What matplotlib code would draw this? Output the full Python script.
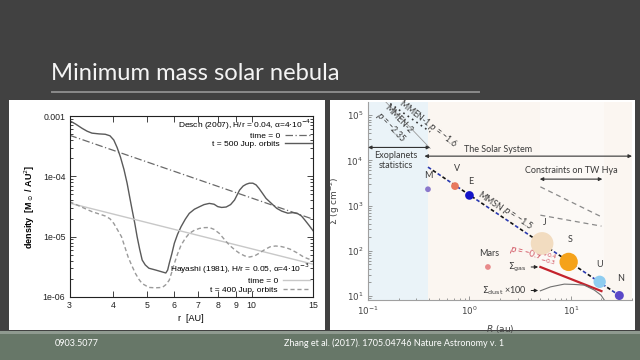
import matplotlib
matplotlib.use("Agg")
import matplotlib.pyplot as plt
from matplotlib.patches import Rectangle
from matplotlib.lines import Line2D
import numpy as np

# ---------------- data: left panel (gnuplot) ----------------
r_ticks = [3, 4, 5, 6, 7, 8, 9, 10, 15]
desch_t0_r = [3, 15]
desch_t0_d = [4.8e-4, 1.95e-5]
hayashi_t0_r = [3, 15]
hayashi_t0_d = [3.6e-5, 3.5e-6]
desch_t500_r = [3.0, 3.13, 3.26, 3.37, 3.48, 3.65, 3.80, 3.92, 4.02, 4.11, 4.20, 4.30, 4.39,
                4.47, 4.54, 4.62, 4.69, 4.77, 4.85, 4.95, 5.07, 5.3, 5.54, 5.67, 5.74, 5.80,
                5.9, 6.0, 6.13, 6.27, 6.45, 6.62, 6.85, 7.08, 7.3, 7.56, 7.8, 7.99, 8.2, 8.45,
                8.7, 8.93, 9.23, 9.45, 9.65, 9.85, 10.08, 10.3, 10.5, 10.75, 11.0, 11.4, 11.8,
                12.2, 12.7, 13.1, 13.5, 13.9, 14.2, 14.6, 15.0]
desch_t500_d = [8.4e-4, 7.3e-4, 6.25e-4, 5.6e-4, 5.2e-4, 5.05e-4, 4.98e-4, 4.7e-4, 4.0e-4,
                3.0e-4, 2.1e-4, 1.3e-4, 7.7e-5, 4.4e-5, 2.75e-5, 1.65e-5, 1.0e-5, 6.2e-6,
                4.1e-6, 3.4e-6, 3.0e-6, 2.8e-6, 2.6e-6, 2.5e-6, 2.8e-6, 3.6e-6, 5.2e-6,
                7.8e-6, 1.1e-5, 1.46e-5, 1.95e-5, 2.43e-5, 2.85e-5, 3.13e-5, 3.4e-5, 3.56e-5,
                3.45e-5, 3.15e-5, 3.05e-5, 3.1e-5, 3.4e-5, 4.05e-5, 5.9e-5, 6.9e-5, 7.4e-5,
                7.7e-5, 7.7e-5, 7.2e-5, 6.3e-5, 5.2e-5, 4.3e-5, 3.55e-5, 2.95e-5, 2.65e-5,
                2.45e-5, 2.5e-5, 2.45e-5, 2.2e-5, 1.9e-5, 1.55e-5, 1.26e-5]
hayashi_t400_r = [3.0, 3.48, 3.80, 3.92, 4.02, 4.12, 4.23, 4.32, 4.42, 4.53, 4.64, 4.75, 4.85,
                  5.07, 5.3, 5.54, 5.67, 5.80, 5.9, 6.0, 6.13, 6.27, 6.45, 6.62, 6.85, 7.08,
                  7.3, 7.56, 7.8, 8.08, 8.35, 8.64, 8.93, 9.23, 9.55, 9.86, 10.2, 10.5, 10.9,
                  11.3, 11.7, 12.1, 12.5, 12.9, 13.5, 14.1, 15.0]
hayashi_t400_d = [3.8e-5, 2.6e-5, 2.2e-5, 1.98e-5, 1.66e-5, 1.3e-5, 1.0e-5, 6.9e-6, 4.6e-6,
                  3.3e-6, 2.45e-6, 1.95e-6, 1.67e-6, 1.44e-6, 1.42e-6, 1.44e-6, 1.6e-6,
                  1.9e-6, 2.6e-6, 3.6e-6, 5.2e-6, 7.2e-6, 9.4e-6, 1.13e-5, 1.28e-5, 1.37e-5,
                  1.41e-5, 1.42e-5, 1.32e-5, 1.13e-5, 9.0e-6, 7.2e-6, 6.1e-6, 5.3e-6, 4.8e-6,
                  4.6e-6, 4.8e-6, 5.3e-6, 6.1e-6, 6.8e-6, 7.0e-6, 6.9e-6, 6.6e-6, 6.2e-6,
                  5.4e-6, 4.6e-6, 4.0e-6]

# ---------------- data: right panel (Zhang et al. 2017) ----------------
planet_names = ["M", "V", "E", "Mars", "J", "S", "U", "N"]
planet_R = [0.39, 0.72, 1.0, 1.52, 5.2, 9.5, 19.2, 30.0]
planet_sigma = [2300, 2700, 1680, 44, 146, 57, 20.7, 10.3]
planet_colors = ["#8a78cc", "#e8785e", "#1414c8", "#e88a8a", "#f2dcc0", "#f5a21a", "#8fcdf0", "#5a48c8"]
planet_sizes = [17, 31, 39, 17, 266, 174, 79, 42]
mmsn_R = [0.39, 30.0]
mmsn_sigma = [7100, 10.3]
mmen1_R = [0.15, 0.41]
mmen1_sigma = [2.1e5, 4.27e4]
mmen2_R = [0.138, 0.41]
mmen2_sigma = [2.37e5, 1.84e4]
twhya1_R = [5, 20]
twhya1_sigma = [2600, 565]
twhya2_R = [5, 20]
twhya2_sigma = [615, 352]
gas_R = [5, 20]
gas_sigma = [44, 12.9]
dust_R = [5.0, 6.3, 8.6, 10.8, 13.5, 17.0, 19.8, 21.3]
dust_sigma = [13.1, 16.0, 18.4, 18.1, 17.5, 13.6, 10.5, 8.2]

W, H = 640, 360
fig = plt.figure(figsize=(6.4, 3.6), dpi=100)
fig.patch.set_facecolor("#414141")


def fr(x0, y0, x1, y1):
    return [x0 / W, 1 - y1 / H, (x1 - x0) / W, (y1 - y0) / H]


def rect(x0, y0, x1, y1, color, z=-5):
    l, b, w, h = fr(x0, y0, x1, y1)
    fig.patches.append(Rectangle((l, b), w, h, transform=fig.transFigure,
                                 facecolor=color, edgecolor="none", zorder=z))


# slide decoration
rect(0, 332, 640, 360, "#677768")
rect(0, 331, 640, 334, "#8f9a90")
rect(9, 100, 325, 330, "#ffffff")
rect(330, 100, 635, 330, "#ffffff")
fig.add_artist(Line2D([52 / W, 479 / W], [1 - 91.5 / H] * 2, color="#8a8a8a", lw=1.4))
fig.text(51 / W, 1 - 80 / H, "Minimum mass solar nebula", color="#f4f4f4", fontsize=17.1,
         family="Lato", ha="left", va="baseline")
fig.text(77 / W, 1 - 343 / H, "0903.5077", color="white", fontsize=6.5, family="Lato",
         ha="center", va="center")
fig.text(394 / W, 1 - 343 / H, "Zhang et al. (2017). 1705.04746 Nature Astronomy v. 1",
         color="white", fontsize=6.5, family="Lato", ha="center", va="center")

# ---------------- left panel ----------------
axL = fig.add_axes(fr(69.5, 116, 313, 297))
lf = "Liberation Sans"
axL.plot(desch_t0_r, desch_t0_d, color="#6a6a6a", lw=0.9, dashes=(6, 2, 1, 2))
axL.plot(desch_t500_r, desch_t500_d, color="#5a5a5a", lw=1.0)
axL.plot(hayashi_t0_r, hayashi_t0_d, color="#c8c8c8", lw=1.0)
axL.plot(hayashi_t400_r, hayashi_t400_d, color="#9a9a9a", lw=1.0, dashes=(3, 2))
axL.set_xscale("log")
axL.set_yscale("log")
axL.set_xlim(3, 15)
axL.set_ylim(1e-6, 1e-3)
axL.set_xticks(r_ticks)
axL.set_xticklabels([str(t) for t in r_ticks])
axL.xaxis.set_minor_locator(matplotlib.ticker.NullLocator())
axL.set_yticks([1e-6, 1e-5, 1e-4, 1e-3])
axL.set_yticklabels(["1e-06", "1e-05", "1e-04", "0.001"])
axL.yaxis.set_minor_locator(matplotlib.ticker.LogLocator(subs=np.arange(2, 10)))
axL.yaxis.set_minor_formatter(matplotlib.ticker.NullFormatter())
axL.tick_params(which="both", direction="in", top=True, right=True, labelsize=6.3,
                colors="#222222", width=0.6, pad=3)
axL.tick_params(which="major", length=4)
axL.tick_params(which="minor", length=2)
for lab in axL.get_xticklabels() + axL.get_yticklabels():
    lab.set_family(lf)
for s in axL.spines.values():
    s.set_linewidth(0.8)
    s.set_color("#222222")
axL.set_xlabel("r  [AU]", fontsize=6.5, family=lf, labelpad=3)
axL.set_ylabel(r"density  [M$_\odot$ / AU$^2$]", fontsize=6.5, family=lf, labelpad=4,
               fontweight="bold")

hd = [Line2D([], [], color="#6a6a6a", lw=0.9, dashes=(6, 2, 1, 2)),
      Line2D([], [], color="#5a5a5a", lw=1.0)]
leg1 = axL.legend(hd, ["time = 0", "t = 500 Jup. orbits"],
                  title=r"Desch (2007), H/r = 0.04, α=4$\cdot$10$^{-4}$",
                  loc="upper right", frameon=False, markerfirst=False, alignment="right",
                  prop={"family": lf, "size": 6}, title_fontproperties={"family": lf, "size": 6},
                  handlelength=3.2, handletextpad=0.6, labelspacing=0.05,
                  borderpad=0.0, borderaxespad=0.15)
axL.add_artist(leg1)
hh = [Line2D([], [], color="#c8c8c8", lw=1.0),
      Line2D([], [], color="#9a9a9a", lw=1.0, dashes=(3, 2))]
axL.legend(hh, ["time = 0", "t = 400 Jup. orbits"],
           title=r"Hayashi (1981), H/r = 0.05, α=4$\cdot$10$^{-3}$",
           loc="lower right", frameon=False, markerfirst=False, alignment="right",
           prop={"family": lf, "size": 6}, title_fontproperties={"family": lf, "size": 6},
           handlelength=3.2, handletextpad=0.6, labelspacing=0.15,
           borderpad=0.1, borderaxespad=0.3)

# ---------------- right panel ----------------
rf = "Lato"
txtc = "#3a3a3a"
axR = fig.add_axes(fr(368, 102, 632, 300))
axR.set_xscale("log")
axR.set_yscale("log")
axR.set_xlim(0.1, 40)
axR.set_ylim(8.2, 1.95e5)
axR.set_facecolor("#fbf6f1")
axR.axvspan(0.1, 0.39, color="#eaf3f8", zorder=0, lw=0)
axR.axvspan(5, 21, color="#fcf9f6", zorder=0, lw=0)

axR.plot(mmen1_R, mmen1_sigma, color="#333333", lw=1.2, ls=(0, (1, 2.2)), zorder=2)
axR.plot(mmen2_R, mmen2_sigma, color="#9a9a9a", lw=0.6, zorder=2)
axR.plot(twhya1_R, twhya1_sigma, color="#8a8a8a", lw=0.9, ls=(0, (4, 3)), zorder=2)
axR.plot(twhya2_R, twhya2_sigma, color="#8a8a8a", lw=0.9, ls=(0, (4, 3)), zorder=2)
axR.plot(mmsn_R, mmsn_sigma, color="#2a3ab0", lw=1.2, ls=(0, (2.2, 4.8)), zorder=2)
axR.plot(mmsn_R, mmsn_sigma, color="#111111", lw=1.2, ls=(3.5, (2.2, 4.8)), zorder=2)
axR.plot(gas_R, gas_sigma, color="#c4232d", lw=1.6, zorder=3)
axR.plot(dust_R, dust_sigma, color="#707070", lw=0.8, zorder=3, clip_on=True)
axR.scatter(planet_R, planet_sigma, s=planet_sizes, c=planet_colors, zorder=4, lw=0)

label_off = [(0.5, 7), (1.5, 9.5), (1, 7), (0.7, 6.5), (2, 12), (1, 12.7), (0, 9), (1, 9)]
for name, R, S, off in zip(planet_names, planet_R, planet_sigma, label_off):
    axR.annotate(name, (R, S), xytext=off, textcoords="offset points", ha="center",
                 va="bottom", fontsize=6.5, family=rf, color=txtc, zorder=5)

arr = dict(arrowstyle="<|-|>", color="#333333", lw=0.8, mutation_scale=5,
           shrinkA=0, shrinkB=0)
axR.annotate("", xy=(0.1, 19300), xytext=(0.41, 19300), arrowprops=arr)
axR.annotate("", xy=(0.36, 12400), xytext=(40, 12400), arrowprops=arr, annotation_clip=False)
axR.annotate("", xy=(4.93, 3850), xytext=(20.4, 3850), arrowprops=arr)
axR.text(0.19, 9800, "Exoplanets\nstatistics", ha="center", va="center", fontsize=6.5,
         family=rf, color=txtc, linespacing=1.1)
axR.text(1.92, 17500, "The Solar System", ha="center", va="center", fontsize=6.5,
         family=rf, color=txtc)
axR.text(10, 6080, "Constraints on TW Hya", ha="center", va="center", fontsize=6.5,
         family=rf, color=txtc)
axR.text(1.61, 1213, "MMSN", ha="center", va="center", rotation=-34, fontsize=6.3,
         family=rf, color=txtc, rotation_mode="anchor")
axR.text(2.97, 530, r"$p$ = −1.5", ha="center", va="center", rotation=-34, fontsize=6.3,
         family=rf, color=txtc, rotation_mode="anchor")
axR.text(0.393, 6.3e4, r"MMEN-1 $p$ = −1.6", ha="center", va="center", rotation=-38,
         fontsize=6.2, family=rf, color=txtc, rotation_mode="anchor")
axR.text(0.18, 6.3e4, "MMEN-2\n" + r"$p$ = −2.35", ha="center", va="center", rotation=-46,
         fontsize=6.2, family=rf, color=txtc, rotation_mode="anchor", linespacing=1.0)
axR.text(4.3, 80.6, r"$p$ = −0.9$^{+0.4}_{-0.3}$", ha="center", va="center", rotation=-14,
         fontsize=6.2, family=rf, color="#d0505e", rotation_mode="anchor")
sarr = dict(arrowstyle="-|>", color="#222222", lw=0.7, mutation_scale=5, shrinkA=1, shrinkB=0)
axR.annotate(r"$\Sigma_{\rm gas}$", xy=(4.75, 44), xytext=(-8, 0), textcoords="offset points",
             ha="right", va="center", fontsize=6.5, color=txtc, arrowprops=sarr)
axR.annotate(r"$\Sigma_{\rm dust}$ ×100", xy=(4.75, 13.3), xytext=(-8, 0),
             textcoords="offset points", ha="right", va="center", fontsize=6.5,
             family=rf, color=txtc, arrowprops=sarr)

axR.spines["top"].set_visible(False)
axR.spines["right"].set_visible(False)
for s in ("left", "bottom"):
    axR.spines[s].set_color("#a0a0a0")
    axR.spines[s].set_linewidth(0.8)
axR.tick_params(which="both", direction="in", labelsize=6.3, colors="#8a8a8a",
                labelcolor="#444444", width=0.6)
axR.tick_params(which="major", length=3)
axR.tick_params(which="minor", length=1.8)
axR.xaxis.set_major_locator(matplotlib.ticker.LogLocator(numticks=10))
axR.yaxis.set_major_locator(matplotlib.ticker.LogLocator(numticks=10))
axR.set_xlabel(r"$R$ (au)", fontsize=6.5, color="#444444", labelpad=4)
axR.set_ylabel(r"$\Sigma$ (g cm$^{-2}$)", fontsize=6.5, color="#444444", labelpad=3)

fig.savefig("out.png", dpi=100, facecolor=fig.get_facecolor())
